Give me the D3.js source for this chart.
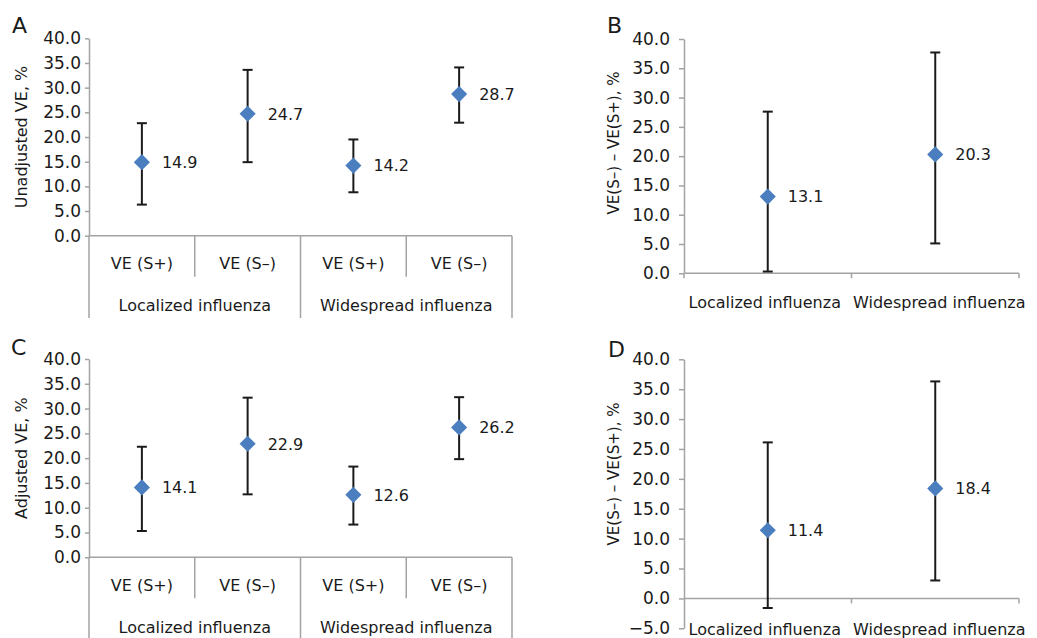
<!DOCTYPE html>
<html>
<head>
<meta charset="utf-8">
<script src="https://cdn.jsdelivr.net/npm/d3@7"></script>
<style>
	body { margin: 0; background: #fff; }
	svg { display: block; font-family: "DejaVu Sans", sans-serif; }
</style>
</head>
<body>
<div id="chart"></div>
<script>
// categories
var subCats = ['VE (S+)', 'VE (S–)', 'VE (S+)', 'VE (S–)'];
var groups = ['Localized influenza', 'Widespread influenza'];

// A: unadjusted VE
var estA = [14.9, 24.7, 14.2, 28.7];
var loA = [6.3, 14.9, 8.8, 22.9];
var hiA = [22.8, 33.6, 19.5, 34.1];

// B: unadjusted difference
var estB = [13.1, 20.3];
var loB = [0.3, 5.1];
var hiB = [27.6, 37.7];

// C: adjusted VE
var estC = [14.1, 22.9, 12.6, 26.2];
var loC = [5.3, 12.7, 6.6, 19.8];
var hiC = [22.3, 32.2, 18.3, 32.3];

// D: adjusted difference
var estD = [11.4, 18.4];
var loD = [-1.6, 3.0];
var hiD = [26.1, 36.3];

var ticksPos = [0, 5, 10, 15, 20, 25, 30, 35, 40];
var ticksNeg = [-5, 0, 5, 10, 15, 20, 25, 30, 35, 40];

var W = 1037, H = 638;
var AXIS = '#a3a3a3', INK = '#1a1a1a', BLUE = '#4a7ebf';
var fmt = d3.format('.1f');

var svg = d3.select('#chart').append('svg').attr('width', W).attr('height', H);

function drawMarks(g, x, y, est, lo, hi) {
	var k = est.map(function (d, i) { return i; });
	var bars = g.append('g').attr('class', 'err');
	k.forEach(function (i) {
		var cx = x(i) + x.bandwidth() / 2;
		bars.append('line').attr('x1', cx).attr('x2', cx).attr('y1', y(lo[i])).attr('y2', y(hi[i]))
			.attr('stroke', INK).attr('stroke-width', 2);
		[lo[i], hi[i]].forEach(function (v) {
			bars.append('line').attr('x1', cx - 5).attr('x2', cx + 5).attr('y1', y(v)).attr('y2', y(v))
				.attr('stroke', INK).attr('stroke-width', 2);
		});
	});
	g.append('g').selectAll('path').data(k).enter().append('path')
		.attr('d', d3.symbol(d3.symbolSquare, 130))
		.attr('fill', BLUE)
		.attr('transform', function (i) { return 'translate(' + (x(i) + x.bandwidth() / 2) + ',' + y(est[i]) + ') rotate(45)'; });
	g.append('g').selectAll('text').data(k).enter().append('text')
		.attr('x', function (i) { return x(i) + x.bandwidth() / 2 + 20; })
		.attr('y', function (i) { return y(est[i]); })
		.attr('dy', '0.36em')
		.attr('font-size', 16).attr('fill', INK)
		.text(function (i) { return fmt(est[i]); });
}

function drawYAxis(g, y, left, ticks, size, pad) {
	var ax = g.append('g').attr('transform', 'translate(' + left + ',0)')
		.call(d3.axisLeft(y).tickValues(ticks).tickSize(size).tickSizeOuter(0).tickPadding(pad).tickFormat(fmt));
	ax.select('.domain').attr('stroke', AXIS).attr('stroke-width', 1.5);
	ax.selectAll('.tick line').attr('stroke', AXIS).attr('stroke-width', 1.5);
	ax.selectAll('.tick text').attr('font-size', 17).attr('fill', INK).attr('font-family', 'DejaVu Sans');
}

function letter(t, x, y) {
	svg.append('text').attr('x', x).attr('y', y).attr('font-size', 22).attr('fill', INK).text(t);
}

function yTitle(t, x, y, size) {
	svg.append('text').attr('transform', 'translate(' + x + ',' + y + ') rotate(-90)')
		.attr('text-anchor', 'middle').attr('dy', '0.36em').attr('font-size', size).attr('fill', INK).text(t);
}

// panel with four sub categories in two groups
function panelVE(c) {
	var g = svg.append('g');
	var y = d3.scaleLinear().domain([0, 40]).range([c.bottom, c.top]);
	var x = d3.scaleBand().domain(d3.range(4)).range([c.left, c.right]);
	var x0 = d3.scaleBand().domain(d3.range(2)).range([c.left, c.right]);
	drawYAxis(g, y, c.left, ticksPos, 4, 4);

	var ax = g.append('g').attr('class', 'x-axis');
	ax.append('line').attr('x1', c.left).attr('x2', c.right).attr('y1', y(0)).attr('y2', y(0))
		.attr('stroke', AXIS).attr('stroke-width', 1.5);
	[1, 3].forEach(function (i) {
		ax.append('line').attr('x1', x(i)).attr('x2', x(i)).attr('y1', y(0)).attr('y2', y(0) + 41)
			.attr('stroke', AXIS).attr('stroke-width', 1.5);
	});
	[0, 2, 4].forEach(function (i) {
		var px = i < 4 ? x(i) : c.right;
		ax.append('line').attr('x1', px).attr('x2', px).attr('y1', y(0)).attr('y2', c.groupBottom)
			.attr('stroke', AXIS).attr('stroke-width', 1.5);
	});
	ax.selectAll('text.sub').data(subCats).enter().append('text').attr('class', 'sub')
		.attr('x', function (d, i) { return x(i) + x.bandwidth() / 2; })
		.attr('y', y(0) + 28).attr('dy', '0.36em')
		.attr('text-anchor', 'middle').attr('font-size', 16).attr('fill', INK)
		.text(function (d) { return d; });
	ax.selectAll('text.grp').data(groups).enter().append('text').attr('class', 'grp')
		.attr('x', function (d, i) { return x0(i) + x0.bandwidth() / 2; })
		.attr('y', y(0) + 70).attr('dy', '0.36em')
		.attr('text-anchor', 'middle').attr('font-size', 16).attr('fill', INK)
		.text(function (d) { return d; });

	drawMarks(g, x, y, c.est, c.lo, c.hi);
	yTitle(c.title, 21, (c.top + c.bottom) / 2, 16);
}

// difference panel with two groups
function panelDiff(c) {
	var g = svg.append('g');
	var y = d3.scaleLinear().domain([c.min, 40]).range([c.bottom, c.top]);
	var x = d3.scaleBand().domain(d3.range(2)).range([c.left, c.right]);
	drawYAxis(g, y, c.left, c.ticks, 5, 9);

	var ax = g.append('g').attr('class', 'x-axis');
	ax.append('line').attr('x1', c.left).attr('x2', c.right).attr('y1', y(0)).attr('y2', y(0))
		.attr('stroke', AXIS).attr('stroke-width', 1.5);
	[c.left + x.bandwidth(), c.right].forEach(function (px) {
		ax.append('line').attr('x1', px).attr('x2', px).attr('y1', y(0)).attr('y2', y(0) + 5)
			.attr('stroke', AXIS).attr('stroke-width', 1.5);
	});
	if (c.min === 0) {
		ax.append('line').attr('x1', c.left).attr('x2', c.left).attr('y1', y(0)).attr('y2', y(0) + 5)
			.attr('stroke', AXIS).attr('stroke-width', 1.5);
	}
	ax.selectAll('text').data(groups).enter().append('text')
		.attr('x', function (d, i) { return x(i) + x.bandwidth() / 2 + (i ? 4 : -3); })
		.attr('y', c.labelY).attr('dy', '0.36em')
		.attr('text-anchor', 'middle').attr('font-size', 16).attr('fill', INK)
		.text(function (d) { return d; });

	drawMarks(g, x, y, c.est, c.lo, c.hi);
	yTitle('VE(S–) – VE(S+), %', 614, c.titleY, 15);
}

panelVE({ left: 89, right: 512, top: 38.3, bottom: 235.7, groupBottom: 318,
	est: estA, lo: loA, hi: hiA, title: 'Unadjusted VE, %' });
panelVE({ left: 89, right: 512, top: 359, bottom: 557.3, groupBottom: 638,
	est: estC, lo: loC, hi: hiC, title: 'Adjusted VE, %' });
panelDiff({ left: 684, right: 1019, top: 39, bottom: 273.3, min: 0, ticks: ticksPos, labelY: 302, titleY: 143,
	est: estB, lo: loB, hi: hiB });
panelDiff({ left: 684, right: 1019, top: 359.3, bottom: 628.3, min: -5, ticks: ticksNeg, labelY: 629, titleY: 474,
	est: estD, lo: loD, hi: hiD });

letter('A', 12, 33);
letter('B', 607, 33);
letter('C', 11, 355);
letter('D', 608, 357);
</script>
</body>
</html>
